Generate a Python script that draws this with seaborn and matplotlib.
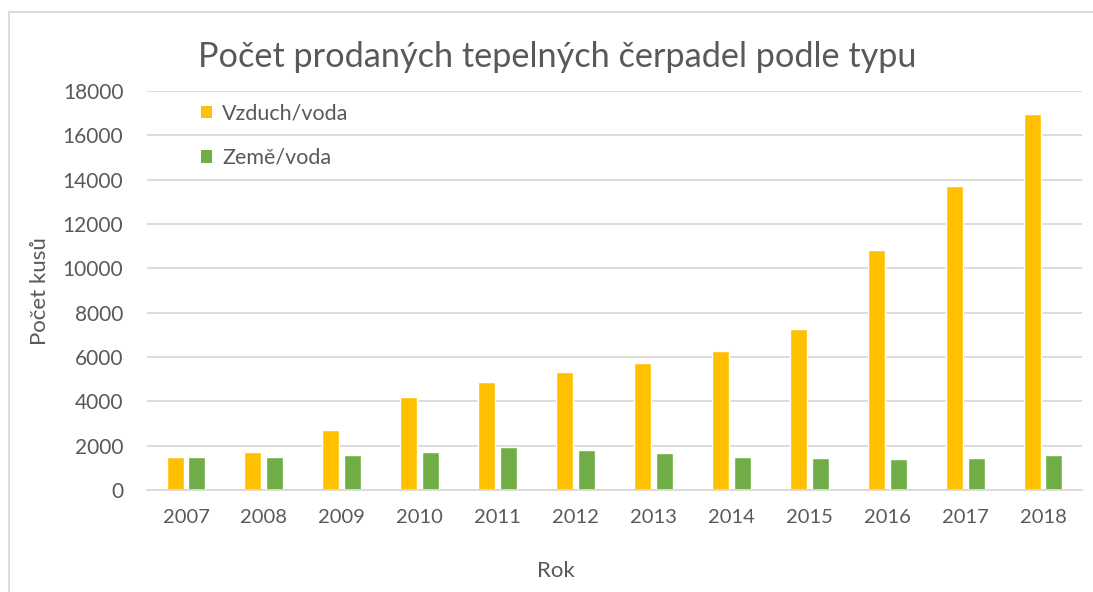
import numpy as np
import pandas as pd
import seaborn as sns
import matplotlib.pyplot as plt
from matplotlib.patches import Rectangle, Patch

# data
years = ['2007', '2008', '2009', '2010', '2011', '2012',
         '2013', '2014', '2015', '2016', '2017', '2018']
vzduch_voda = [1510, 1700, 2710, 4195, 4890, 5320, 5740, 6260, 7280, 10810, 13710, 16980]
zeme_voda = [1490, 1490, 1590, 1700, 1940, 1790, 1680, 1510, 1450, 1420, 1435, 1560]
series = ['Vzduch/voda', 'Země/voda']
colors = ['#FFC000', '#70AD47']
yticks = [0, 2000, 4000, 6000, 8000, 10000, 12000, 14000, 16000, 18000]

df = pd.DataFrame({
    'Rok': years * 2,
    'Typ': [series[0]] * len(years) + [series[1]] * len(years),
    'Pocet': vzduch_voda + zeme_voda,
})

sns.set_style('white')
plt.rcParams['font.family'] = ['Lato', 'DejaVu Sans']
text_col = '#595959'
grid_col = '#D9D9D9'

W, H = 1093, 592
fig = plt.figure(figsize=(W / 100, H / 100), dpi=100)
ax = fig.add_axes([147 / W, 1 - 490 / H, (1082 - 147) / W, (490 - 91) / H])

sns.barplot(data=df, x='Rok', y='Pocet', hue='Typ', palette=colors,
            width=0.56, ax=ax, legend=False, saturation=1)

# narrow bars a bit so there's a gap inside each group
for p in ax.patches:
    w = p.get_width()
    p.set_x(p.get_x() + w * 0.11)
    p.set_width(w * 0.78)

ax.set_ylim(0, 18000)
ax.set_yticks(yticks)
ax.set_yticklabels([str(t) for t in yticks])
ax.yaxis.grid(True, color=grid_col, linewidth=1.3)
ax.set_axisbelow(True)
for s in ['top', 'right', 'left']:
    ax.spines[s].set_visible(False)
ax.spines['bottom'].set_color(grid_col)
ax.spines['bottom'].set_linewidth(1.3)
ax.tick_params(axis='y', length=0, pad=17, labelsize=15, labelcolor=text_col)
ax.tick_params(axis='x', length=0, pad=14, labelsize=14.5, labelcolor=text_col)
ax.set_xlabel('')
ax.set_ylabel('')

fig.text(40 / W, 1 - 291 / H, 'Počet kusů', rotation=90, ha='center', va='center',
         fontsize=16, color=text_col)
fig.text(556 / W, 1 - 571 / H, 'Rok', ha='center', va='center',
         fontsize=16, color=text_col)
fig.text(557 / W, 1 - 57 / H, 'Počet prodaných tepelných čerpadel podle typu',
         ha='center', va='center', fontsize=24.7, color=text_col)

handles = [Patch(facecolor=c, edgecolor='none') for c in colors]
ax.legend(handles, series, loc='upper left', bbox_to_anchor=(192 / W, 1 - 95 / H),
          bbox_transform=fig.transFigure, frameon=False, fontsize=15.5,
          handlelength=0.55, handleheight=0.55, handletextpad=0.45,
          labelspacing=1.12, labelcolor=text_col, borderaxespad=0)

# light chart border like the Excel chart area
fig.patches.append(Rectangle((9 / W, -0.1), 1.2, 1 - 12 / H + 0.1, transform=fig.transFigure,
                             fill=False, edgecolor=grid_col, linewidth=1.3))

fig.savefig('out.png', dpi=100)
